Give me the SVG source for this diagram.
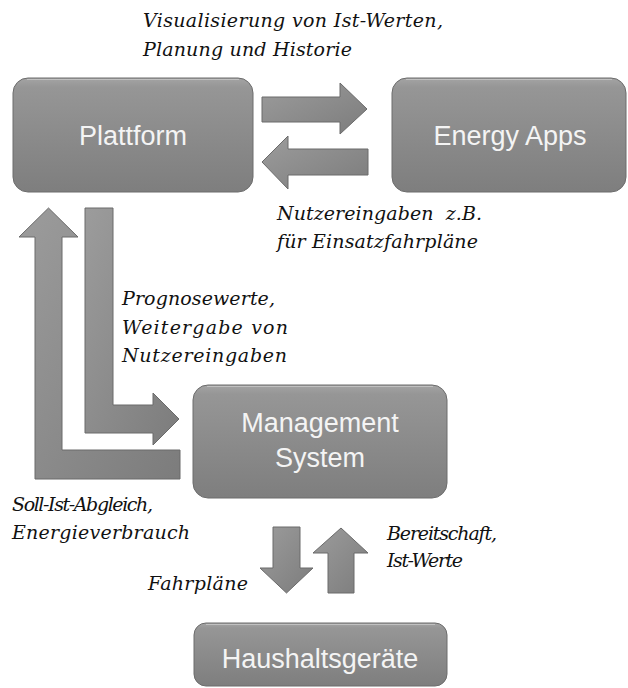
<svg xmlns="http://www.w3.org/2000/svg" width="628" height="688" viewBox="0 0 628 688">
<defs>
<linearGradient id="boxg" x1="0" y1="0" x2="0" y2="1">
<stop offset="0" stop-color="#a4a4a4"/>
<stop offset="0.08" stop-color="#969696"/>
<stop offset="1" stop-color="#7e7e7e"/>
</linearGradient>
<linearGradient id="arrg" x1="0" y1="0" x2="1" y2="1">
<stop offset="0" stop-color="#9c9c9c"/>
<stop offset="1" stop-color="#7c7c7c"/>
</linearGradient>
<style>
.box{fill:url(#boxg);stroke:#6c6c6c;stroke-width:1}
.hl{fill:none;stroke:#c8c8c8;stroke-width:1.2;opacity:0.8}
.nt{font-size:27px;fill:#f4f4f4;text-anchor:middle}
.arr{fill:url(#arrg);stroke:#6a6a6a;stroke-width:1;stroke-linejoin:miter}
.lb{font-size:19px;fill:#111}
</style>
</defs>

<g id="connectors">
<path class="arr" d="M262,97 H340 V83 L367,109 L340,134 V122 H262 Z"/>
<path class="arr" d="M368,149 H288 V136 L262,162 L288,189 V175 H368 Z"/>
<path class="arr" d="M180,479 H35 V237 H19 L48.5,208 L78,237 H62 V450 H180 Z"/>
<path class="arr" d="M85,208 H113 V405 H153 V393 L179,419 L153,445 V433 H85 Z"/>
<path class="arr" d="M273,527 H300 V568 H313 L286.5,593 L260,568 H273 Z"/>
<path class="arr" d="M341,528 L368,553 H354 V593 H328 V553 H313 Z"/>
</g>

<g id="plattform" font-family="Liberation Sans, Arial, sans-serif">
<rect class="box" x="13" y="78" width="240" height="114" rx="15"/>
<path class="hl" d="M27,79.5 H239"/>
<text class="nt" x="133" y="145">Plattform</text>
</g>

<g id="energy-apps" font-family="Liberation Sans, Arial, sans-serif">
<rect class="box" x="392" y="78" width="234" height="114" rx="15"/>
<path class="hl" d="M406,79.5 H612"/>
<text class="nt" x="510" y="145">Energy Apps</text>
</g>

<g id="management-system" font-family="Liberation Sans, Arial, sans-serif">
<rect class="box" x="193" y="385" width="254" height="113" rx="15"/>
<path class="hl" d="M207,386.5 H433"/>
<text class="nt" x="320" y="432">Management</text>
<text class="nt" x="320" y="467">System</text>
</g>

<g id="haushaltsgeraete" font-family="Liberation Sans, Arial, sans-serif">
<rect class="box" x="194" y="623" width="253" height="63" rx="12"/>
<path class="hl" d="M206,624.5 H435"/>
<text class="nt" x="320" y="668">Haushaltsgeräte</text>
</g>

<g id="labels" font-family="DejaVu Serif, serif" font-style="italic">
<text class="lb" x="143" y="27" textLength="300" lengthAdjust="spacing">Visualisierung von Ist-Werten,</text>
<text class="lb" x="143" y="56" textLength="209" lengthAdjust="spacing">Planung und Historie</text>
<text class="lb" x="277" y="220" textLength="205" lengthAdjust="spacing" xml:space="preserve">Nutzereingaben  z.B.</text>
<text class="lb" x="277" y="248" textLength="201" lengthAdjust="spacing">für Einsatzfahrpläne</text>
<text class="lb" x="122" y="305" textLength="153" lengthAdjust="spacing">Prognosewerte,</text>
<text class="lb" x="122" y="334" textLength="166" lengthAdjust="spacing">Weitergabe von</text>
<text class="lb" x="122" y="362" textLength="165" lengthAdjust="spacing">Nutzereingaben</text>
<text class="lb" x="12" y="511" textLength="141" lengthAdjust="spacing">Soll-Ist-Abgleich,</text>
<text class="lb" x="12" y="539" textLength="178" lengthAdjust="spacing">Energieverbrauch</text>
<text class="lb" x="387" y="540" textLength="110" lengthAdjust="spacing">Bereitschaft,</text>
<text class="lb" x="387" y="567" textLength="76" lengthAdjust="spacing">Ist-Werte</text>
<text class="lb" x="148" y="590" textLength="100" lengthAdjust="spacing">Fahrpläne</text>
</g>
</svg>
